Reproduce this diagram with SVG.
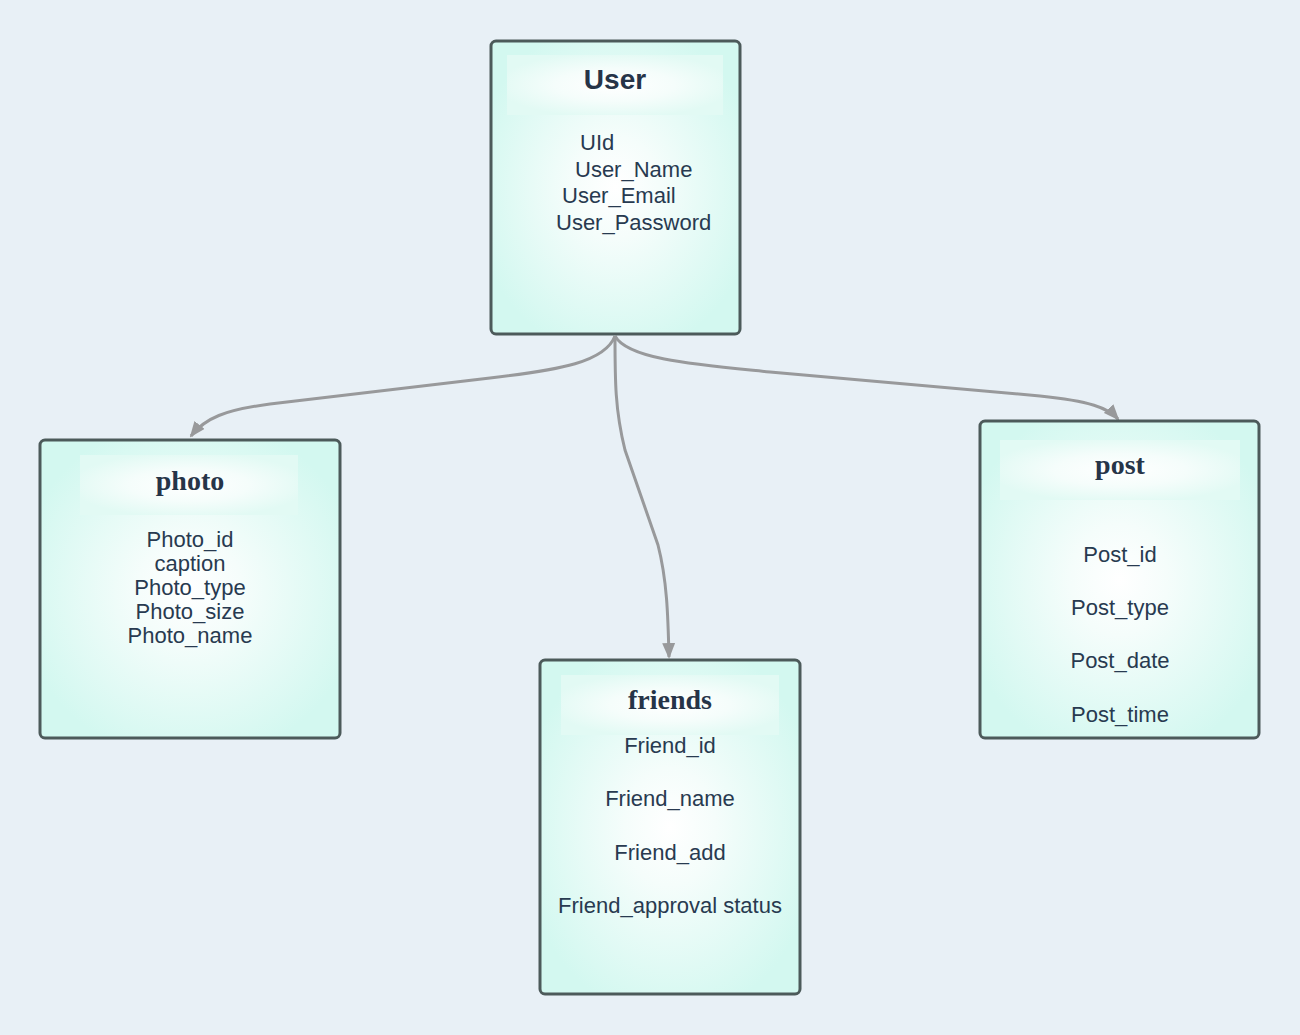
<svg xmlns="http://www.w3.org/2000/svg" width="1300" height="1035" viewBox="0 0 1300 1035">
  <defs>
    <radialGradient id="bodyFill" cx="50%" cy="50%" r="58%">
      <stop offset="0" stop-color="#ffffff"/>
      <stop offset="0.3" stop-color="#f5fdfb"/>
      <stop offset="1" stop-color="#d3f8f0"/>
    </radialGradient>
    <radialGradient id="headFill" cx="50%" cy="50%" r="55%">
      <stop offset="0" stop-color="#ffffff"/>
      <stop offset="0.5" stop-color="#f5fdfb"/>
      <stop offset="1" stop-color="#e2faf4"/>
    </radialGradient>
    <marker id="arrow" viewBox="0 0 16 13" refX="14" refY="6.5" markerWidth="16" markerHeight="13" markerUnits="userSpaceOnUse" orient="auto">
      <path d="M0,0 L16,6.5 L0,13 z" fill="#98999b"/>
    </marker>
    <style>
      .box { fill: url(#bodyFill); stroke: #4c5a5a; stroke-width: 3; }
      .head { fill: url(#headFill); }
      .sans-title { font-family: "Liberation Sans", Arial, sans-serif; font-weight: bold; font-size: 28px; fill: #263448; text-anchor: middle; }
      .serif-title { font-family: "Liberation Serif", "Times New Roman", serif; font-weight: bold; font-size: 28px; fill: #263448; text-anchor: middle; }
      .field { font-family: "Liberation Sans", Arial, sans-serif; font-size: 22px; fill: #283a50; }
      .mid { text-anchor: middle; }
      .link { fill: none; stroke: #98999b; stroke-width: 3; marker-end: url(#arrow); }
    </style>
  </defs>

  <rect x="0" y="0" width="1300" height="1035" fill="#e8f0f6"/>

  <g id="connectors">
    <path class="link" d="M615,336 C605,362 560,370 490,378 L270,404 C225,410 205,418 191,436"/>
    <path class="link" d="M615,336 C615,380 615,410 625,450 L658,545 C667,580 668,615 669,657"/>
    <path class="link" d="M615,336 C628,360 700,365 770,372 L1040,396 C1090,401 1108,408 1118,419"/>
  </g>

  <g id="node-user">
    <rect class="box" x="491" y="41" width="249" height="293" rx="5"/>
    <rect class="head" x="507" y="55" width="216" height="60"/>
    <text class="sans-title" x="615" y="89">User</text>
    <text class="field" x="580" y="150">UId</text>
    <text class="field" x="575" y="177">User_Name</text>
    <text class="field" x="562" y="203">User_Email</text>
    <text class="field" x="556" y="230">User_Password</text>
  </g>

  <g id="node-photo">
    <rect class="box" x="40" y="440" width="300" height="298" rx="5"/>
    <rect class="head" x="80" y="455" width="218" height="60"/>
    <text class="serif-title" x="190" y="490">photo</text>
    <text class="field mid" x="190" y="547">Photo_id</text>
    <text class="field mid" x="190" y="571">caption</text>
    <text class="field mid" x="190" y="595">Photo_type</text>
    <text class="field mid" x="190" y="619">Photo_size</text>
    <text class="field mid" x="190" y="643">Photo_name</text>
  </g>

  <g id="node-friends">
    <rect class="box" x="540" y="660" width="260" height="334" rx="5"/>
    <rect class="head" x="561" y="675" width="218" height="60"/>
    <text class="serif-title" x="670" y="709">friends</text>
    <text class="field mid" x="670" y="753">Friend_id</text>
    <text class="field mid" x="670" y="806">Friend_name</text>
    <text class="field mid" x="670" y="860">Friend_add</text>
    <text class="field mid" x="670" y="913">Friend_approval status</text>
  </g>

  <g id="node-post">
    <rect class="box" x="980" y="421" width="279" height="317" rx="5"/>
    <rect class="head" x="1000" y="440" width="240" height="60"/>
    <text class="serif-title" x="1120" y="474">post</text>
    <text class="field mid" x="1120" y="562">Post_id</text>
    <text class="field mid" x="1120" y="615">Post_type</text>
    <text class="field mid" x="1120" y="668">Post_date</text>
    <text class="field mid" x="1120" y="722">Post_time</text>
  </g>
</svg>
